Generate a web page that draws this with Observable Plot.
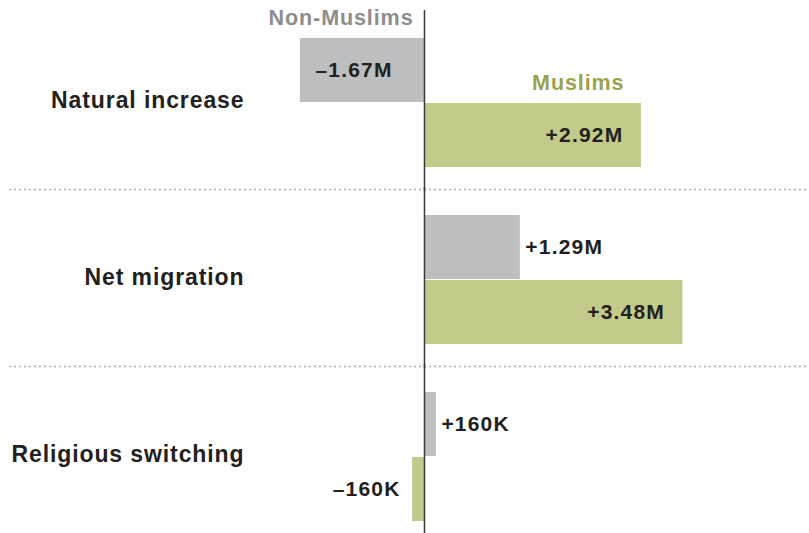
<!DOCTYPE html>
<html>
<head>
<meta charset="utf-8">
<script src="https://cdn.jsdelivr.net/npm/d3@7"></script>
<script src="https://cdn.jsdelivr.net/npm/@observablehq/plot@0.6"></script>
<style>
  html, body { margin: 0; padding: 0; background: #fff; }
  #chart svg { display: block; }
  #chart g[font-size="23"] text { letter-spacing: 0.9px; }
  #chart g[font-size="21"] text { letter-spacing: 1.2px; }
  #chart g[font-size="21.5"] text { letter-spacing: 0.9px; }
</style>
</head>
<body>
<div id="chart"></div>
<script>
const categories = ["Natural increase", "Net migration", "Religious switching"];
const groups = ["Non-Muslims", "Muslims"];
const nonMuslimValues = [-1.67, 1.29, 0.16];
const muslimValues = [2.92, 3.48, -0.16];
const nonMuslimLabels = ["–1.67M", "+1.29M", "+160K"];
const muslimLabels = ["+2.92M", "+3.48M", "–160K"];

const colors = {"Non-Muslims": "#bdbec0", "Muslims": "#c3cb8b"};
const headerColors = {"Non-Muslims": "#8d8d8d", "Muslims": "#9ba24c"};
const ink = "#231f20";

const rows = [];
categories.forEach((c, i) => {
  rows.push({category: c, group: groups[0], value: nonMuslimValues[i], label: nonMuslimLabels[i]});
  rows.push({category: c, group: groups[1], value: muslimValues[i], label: muslimLabels[i]});
});
const inside = d => Math.abs(d.value) > 1.5;
const insidePos = rows.filter(d => inside(d) && d.value > 0);
const insideNeg = rows.filter(d => inside(d) && d.value < 0);
const outsidePos = rows.filter(d => !inside(d) && d.value > 0);
const outsideNeg = rows.filter(d => !inside(d) && d.value < 0);

const first = categories[0];
const font = "'Liberation Sans', Arial, sans-serif";
const valueText = {x: "value", y: "group", fy: "category", text: "label",
  fill: ink, fontSize: 21, fontWeight: "bold"};

const chart = Plot.plot({
  width: 809,
  height: 533,
  marginTop: 38,
  marginBottom: 12,
  marginLeft: 10,
  marginRight: 0,
  style: {fontFamily: font, background: "#fff"},
  x: {domain: [-5.572, 5.182], axis: null},
  y: {domain: groups, paddingInner: 0.0154, paddingOuter: 0, axis: null},
  fy: {domain: categories, paddingInner: 0.2712, paddingOuter: 0, axis: null},
  marks: [
    Plot.ruleY(categories.slice(0, 2), {fy: d => d, y: () => groups[1], dy: 54,
      stroke: "#a0a0a0", strokeWidth: 1.8, strokeDasharray: "0,5", strokeLinecap: "round"}),
    Plot.barX(rows, {x: "value", y: "group", fy: "category",
      fill: d => colors[d.group]}),
    Plot.ruleX([0], {stroke: "#3a3a3a", strokeWidth: 1.5, insetTop: -28, insetBottom: -24}),
    Plot.text(insidePos, {...valueText, textAnchor: "end", dx: -18}),
    Plot.text(insideNeg, {...valueText, textAnchor: "start", dx: 15}),
    Plot.text(outsidePos, {...valueText, textAnchor: "start", dx: 5}),
    Plot.text(outsideNeg, {...valueText, textAnchor: "end", dx: -12}),
    Plot.text(categories, {fy: d => d, text: d => d, frameAnchor: "left",
      fill: ink, fontSize: 23, fontWeight: "bold",
      textAnchor: "end", dx: 234, dy: -2}),
    Plot.text([groups[0]], {fy: () => first, x: () => 0, y: () => groups[0], text: d => d,
      textAnchor: "end", dx: -11, dy: -52, fill: headerColors[groups[0]],
      fontSize: 21.5, fontWeight: "bold"}),
    Plot.text([groups[1]], {fy: () => first, x: () => muslimValues[0], y: () => groups[0], text: d => d,
      textAnchor: "end", dx: -17, dy: 13, fill: headerColors[groups[1]],
      fontSize: 21.5, fontWeight: "bold"})
  ]
});
document.getElementById("chart").appendChild(chart);
</script>
</body>
</html>
